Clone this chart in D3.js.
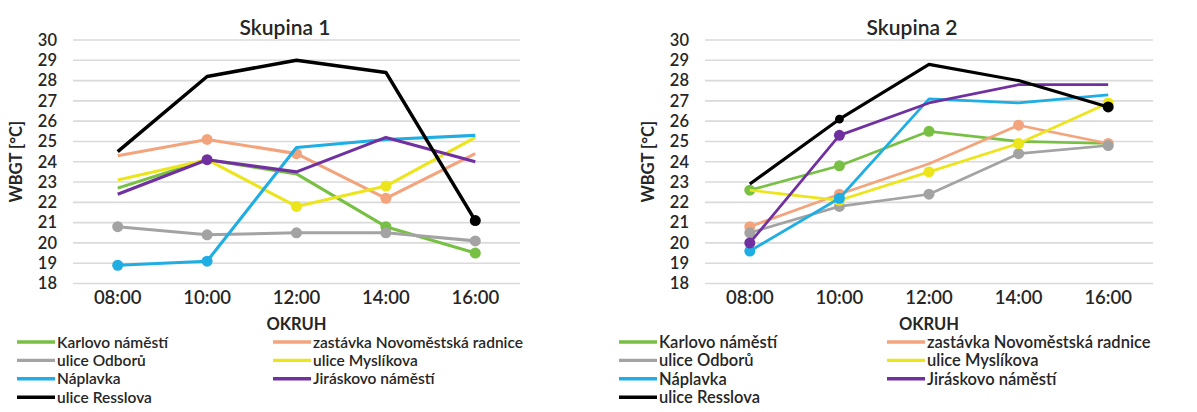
<!DOCTYPE html>
<html>
<head>
<meta charset="utf-8">
<script src="https://cdn.jsdelivr.net/npm/d3@7"></script>
<style>
  html, body { margin: 0; padding: 0; background: #fff; }
  svg { display: block; font-family: Lato, "Open Sans", sans-serif; }
</style>
</head>
<body>
<svg id="chart" width="1197" height="412"></svg>
<script>
// Measurement times (x categories)
const times = ["08:00", "10:00", "12:00", "14:00", "16:00"];
// Y ticks
const yTicks = [18, 19, 20, 21, 22, 23, 24, 25, 26, 27, 28, 29, 30];

// Measurement sites, in legend order
const sites = ["Karlovo náměstí", "zastávka Novoměstská radnice", "ulice Odborů",
               "ulice Myslíkova", "Náplavka", "Jiráskovo náměstí", "ulice Resslova"];
const siteColors = ["#78c043", "#f4a47c", "#a3a3a3", "#ece51c", "#1eaee4", "#7030a0", "#000000"];

// Skupina 1 – WBGT [°C]
const g1Karlovo    = [22.7, 24.1, 23.4, 20.8, 19.5];
const g1Zastavka   = [24.3, 25.1, 24.4, 22.2, 24.4];
const g1Odboru     = [20.8, 20.4, 20.5, 20.5, 20.1];
const g1Myslikova  = [23.1, 24.1, 21.8, 22.8, 25.2];
const g1Naplavka   = [18.9, 19.1, 24.7, 25.1, 25.3];
const g1Jiraskovo  = [22.4, 24.1, 23.5, 25.2, 24.0];
const g1Resslova   = [24.5, 28.2, 29.0, 28.4, 21.1];
// indices of highlighted points
const g1Marked = [[3, 4], [1, 2, 3], [0, 1, 2, 3, 4], [2, 3], [0, 1], [1], [4]];

// Skupina 2 – WBGT [°C]
const g2Karlovo    = [22.6, 23.8, 25.5, 25.0, 24.9];
const g2Zastavka   = [20.8, 22.4, 23.9, 25.8, 24.9];
const g2Odboru     = [20.5, 21.8, 22.4, 24.4, 24.8];
const g2Myslikova  = [22.6, 22.1, 23.5, 24.9, 26.9];
const g2Naplavka   = [19.6, 22.2, 27.1, 26.9, 27.3];
const g2Jiraskovo  = [20.0, 25.3, 26.9, 27.8, 27.8];
const g2Resslova   = [22.9, 26.1, 28.8, 28.0, 26.7];
const g2Marked = [[0, 1, 2], [0, 1, 3, 4], [0, 1, 2, 3, 4], [1, 2, 3, 4], [0, 1], [0, 1], [1, 4]];

const svg = d3.select("#chart");
const textColor = "#262626";

function drawPanel(opts) {
  const { title, titleX, series, marked, x0, x1, yTop, yBottom, lineW, legend, smallDot } = opts;
  const g = svg.append("g");

  const x = d3.scaleBand().domain(times).range([x0, x1]).padding(0);
  const y = d3.scaleLinear().domain([18, 30]).range([yBottom, yTop]);
  const cx = d => x(d) + x.bandwidth() / 2;

  // horizontal gridlines
  g.append("g").selectAll("line").data(yTicks).join("line")
    .attr("x1", x0).attr("x2", x1)
    .attr("y1", d => y(d)).attr("y2", d => y(d))
    .attr("stroke", "#dadada").attr("stroke-width", 1.6);

  // y axis labels
  const yAxis = d3.axisLeft(y).tickValues(yTicks).tickSize(0).tickPadding(0);
  const ya = g.append("g").attr("transform", `translate(${x0 - 16},0)`).call(yAxis);
  ya.select(".domain").remove();
  ya.selectAll("text").attr("fill", textColor).style("font-size", "16.5px")
    .style("font-family", "Lato, sans-serif").style("font-weight", "600");

  // x axis labels
  const xAxis = d3.axisBottom(x).tickSize(0).tickPadding(0);
  const xa = g.append("g").attr("transform", `translate(0,${yBottom + 7})`).call(xAxis);
  xa.select(".domain").remove();
  xa.selectAll("text").attr("fill", textColor).style("font-size", "18.5px")
    .style("font-family", "Lato, sans-serif").style("font-weight", "600");

  // titles
  g.append("text").attr("x", titleX).attr("y", 35)
    .attr("text-anchor", "middle").attr("fill", textColor)
    .style("font-size", "21px").style("font-weight", "600").text(title);
  g.append("text").attr("x", (x0 + x1) / 2).attr("y", 330)
    .attr("text-anchor", "middle").attr("fill", textColor)
    .style("font-size", "16.5px").style("font-weight", "700").text("OKRUH");
  g.append("text")
    .attr("transform", `translate(${x0 - 51},${(yTop + yBottom) / 2}) rotate(-90)`)
    .attr("text-anchor", "middle").attr("fill", textColor)
    .style("font-size", "16.5px").style("font-weight", "700").text("WBGT [°C]");

  const line = d3.line().x((d, i) => cx(times[i])).y(d => y(d));

  series.forEach((vals, s) => {
    g.append("path").datum(vals).attr("d", line)
      .attr("fill", "none").attr("stroke", siteColors[s])
      .attr("stroke-width", s === 6 ? lineW + 0.4 : lineW).attr("stroke-linejoin", "round");
    g.append("g").selectAll("circle").data(marked[s]).join("circle")
      .attr("cx", i => cx(times[i])).attr("cy", i => y(vals[i]))
      .attr("r", i => (smallDot && smallDot[0] === s && smallDot[1] === i) ? 4.4 : 5.5)
      .attr("fill", siteColors[s]);
  });

  // legend, two columns filled row by row
  const lg = g.append("g");
  sites.forEach((name, s) => {
    const col = s % 2, row = Math.floor(s / 2);
    const lx = col === 0 ? legend.c1 : legend.c2;
    const ly = 342 + row * 18.4;
    lg.append("line").attr("x1", lx).attr("x2", lx + 38)
      .attr("y1", ly).attr("y2", ly)
      .attr("stroke", siteColors[s]).attr("stroke-width", 3.4);
    lg.append("text").attr("x", lx + 40).attr("y", ly + legend.size * 0.36)
      .attr("fill", textColor).style("font-size", legend.size + "px").style("font-weight", "600")
      .text(name);
  });
}

drawPanel({
  title: "Skupina 1", titleX: 285,
  series: [g1Karlovo, g1Zastavka, g1Odboru, g1Myslikova, g1Naplavka, g1Jiraskovo, g1Resslova],
  marked: g1Marked,
  x0: 73, x1: 520, yTop: 40, yBottom: 283.5, lineW: 3.1,
  legend: { c1: 17, c2: 273, size: 15.5 }
});

drawPanel({
  title: "Skupina 2", titleX: 912,
  series: [g2Karlovo, g2Zastavka, g2Odboru, g2Myslikova, g2Naplavka, g2Jiraskovo, g2Resslova],
  marked: g2Marked,
  x0: 705, x1: 1153, yTop: 40, yBottom: 283.5, lineW: 2.7,
  legend: { c1: 619, c2: 887, size: 16.5 },
  smallDot: [6, 1]
});
</script>
</body>
</html>
